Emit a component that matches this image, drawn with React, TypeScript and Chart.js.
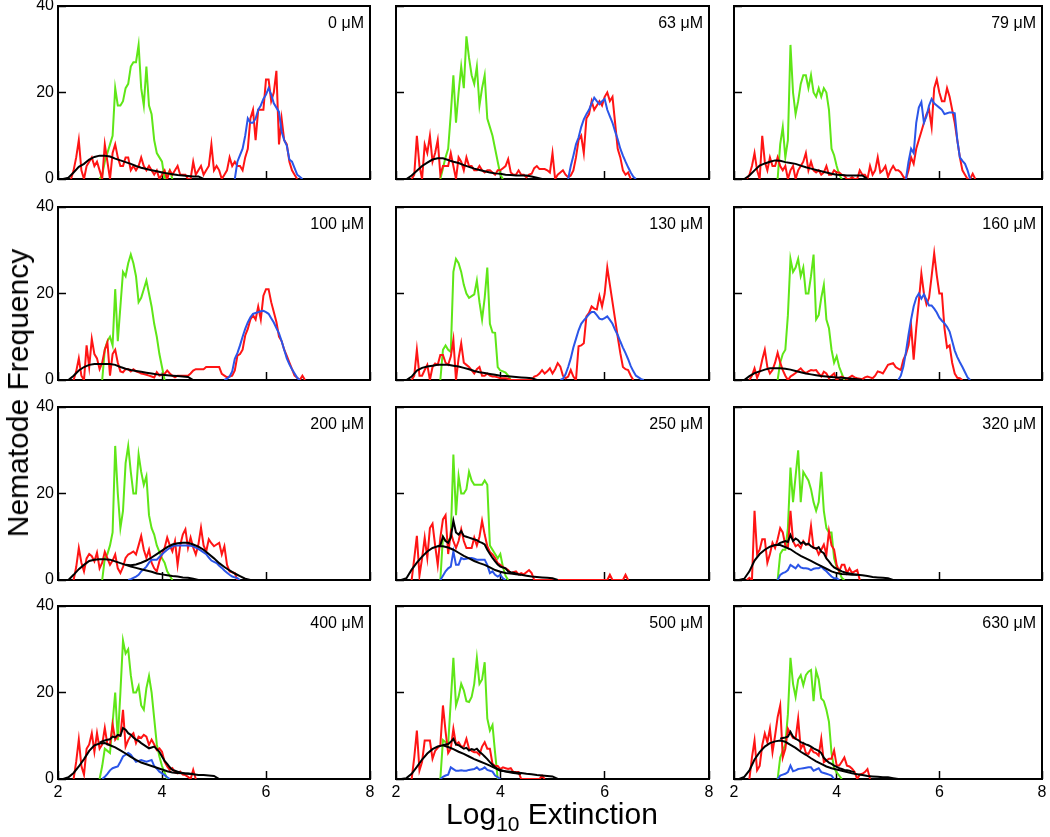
import React, { useEffect, useRef } from 'react';
import { Chart, registerables } from 'chart.js';

Chart.register(...registerables);

// ---------------- data ----------------
const CONCENTRATIONS = ['0', '63', '79', '100', '130', '160', '200', '250', '320', '400', '500', '630'];
const X_MIN = 2;
const X_MAX = 8;
const X_STEP_TICK = 2;
const Y_MIN = 0;
const Y_MAX = 40;
const Y_STEP_TICK = 20;

const FINE = 0.05; // bin width of green, red, blue and second black series
const COARSE = 0.1; // bin width of the smooth black series
const BLACK_START = 2.0;

const GREEN_START = [2.8, 2.85, 2.85, 2.85, 2.85, 2.85, 2.85, 2.85, 2.85, 2.8, 2.85, 2.85];
const RED_START = [2.25, 2.3, 2.25, 2.3, 2.3, 2.3, 2.3, 2.3, 2.25, 2.3, 2.3, 2.3];
const BLUE_START = [5.4, 5.3, 5.35, 5.2, 5.15, 5.2, 3.35, 2.85, 2.85, 2.85, 2.85, 2.85];
const BLACK2_START = [0, 0, 0, 0, 0, 0, 3.3, 2.8, 2.85, 2.8, 2.9, 2.9];
const BLACK2_STEP = [0, 0, 0, 0, 0, 0, 0.1, 0.05, 0.05, 0.05, 0.05, 0.05];

// 0 uM
const GREEN_0 = [0,1,4,6,8,10,21,17,17,18,21,22,26,27,27,31,21,17,26,17,15,9,6,5,4,0,1,2,0];
const RED_0 = [0,2,5,9,2,0,3,4,5,3,4,2,0,8,4,0,6,8,5,3,3,5,5,2,3,2,3,5,3,2,3,2,1,2,0,1,2,0,2,1,2,3,1,1,1,0,0,4,1,2,3,1,2,3,8,2,3,2,0,1,2,5,3,4,3,3,2,5,7,14,16,9,16,16,16,23,23,18,20,25,8,14,9,8,4,2,1,0];
const BLUE_0 = [0,4,5.5,7,10,14,13,13,14,16,17,18.5,19.5,21,19.5,17.5,16.5,15.5,11,9,7.7,4.5,4,2.5,1,0.5,0];
const BLACK_0 = [0,0,0.3,1.5,2.8,3.5,4.5,5.1,5.4,5.4,5.2,4.7,4.3,3.9,3.5,3.0,2.6,2.3,2.0,1.8,1.5,1.3,1.1,0.9,0.8,0.7,0.6,0.6,0];

// 63 uM
const GREEN_1 = [0,2.5,5,7,15,24,13,20,26,21,33,28,24,22,26,17,21,24,14,12,10,7,4,1,0];
const RED_1 = [0,1,10,3,0,8,6,10,4,6,9,1,3,3,3,6,3,0,5,4,2,5,3,3,2,2,3,2,1.5,2,2,1.5,1,2,2,2.5,3,4.6,1.5,1,1,2,1,1,0.4,1,1.2,2.5,3,2.3,2.3,2.3,2,1.5,6,0,1,1.5,2,1,0.4,0.8,2,5,9,10,6,14,15,18,16,17,18,17,19,20,18,19,13,7,5,2,1,1.5,0];
const BLUE_1 = [0,3,5.4,8,9.6,12,13.8,15,16,17.5,18.8,18,17.3,18,18.5,16,14.5,13,11,9.2,7,5.4,4,2.7,1.5,0.5,0];
const BLACK_1 = [0,0,0,0.8,1.9,3,3.8,4.5,4.8,4.8,4.4,4.0,3.7,3.2,2.8,2.4,2.1,1.8,1.5,1.3,1.2,1.0,0.9,0.8,0.8,0.8,0.6,0.3,0];

// 79 uM
const GREEN_2 = [0,8,12,5,9,31,20,15,18,22,24,24,21,24,20,19,21,19,21,20,16,7,5.5,3,1,0];
const RED_2 = [0,1,3,6,2,0,10,4,2,5,3,3,5,3,2,3,0,2,3,0,2,3,4,6,2,4,2,1.5,2,1,1.5,3,1,1,2,1.5,1.5,1,0.8,0,0,0.4,0,0,2,1,1,0,3,1,2,5,1.5,2,3,0.5,2,3,2,2,1.5,0.5,0,2,5,3.5,7,9,11,13,15,16,12,21,23,20,18,18,21,19,16,13,9,5,2,1,0,0,1.2,0];
const BLUE_2 = [0,4,7,6,13,16.5,17.8,13,14.5,17,18.5,17.5,17,16.5,16,15,15.2,15.4,15.4,15.2,9,5,4.2,3.5,2,0];
const BLACK_2 = [0,0,0,0.8,2,3.1,3.6,4,4.3,4.2,3.9,3.7,3.5,3.1,2.7,2.4,2.1,1.8,1.5,1.2,1.0,0.9,0.8,0.8,0.8,0.8,0];

// 100 uM
const GREEN_3 = [0,7,9,10,8,21,9,17,25,24,27,29,27,24,18,19,21,23,20,17,13,10,6,3,0];
const RED_3 = [0,2,5,1,0,8,3,9.5,6,5,2.5,4,7,8.7,1,6,7,4,2,1.8,2.5,2.5,2,2.5,2,1.8,1.5,1.4,1.2,1,0.8,0.6,1.8,1,1.2,1.4,2.2,1.5,1,0.6,1,1,1,1,1,1.5,2.2,2.5,2.5,2.5,2.5,3,3,3,3,3,3,1.4,1,0.6,0.8,1,2.2,5.6,6,7,10.3,11.8,14,15,14,17,14,19.5,21,21,18,15.7,13.4,10,9,7,5.6,4,2.5,1,0.5,0,1,0];
const BLUE_3 = [0,0.3,0.8,2,4.9,6.2,8,10,11.8,13.3,14.5,15.3,15.5,15.7,15.9,16,15.7,15.3,14.3,13.3,12,10.8,9,7,5,3.6,2.5,1.5,0.5,0];
const BLACK_3 = [0,0,0,1,2.2,3,3.5,3.7,3.7,3.7,3.7,3.5,3.0,2.6,2.3,2.1,1.9,1.7,1.5,1.3,1.2,1.1,1.0,0.9,0.8,0.7,0];

// 130 uM
const GREEN_4 = [0,7,8,7,6.5,25,28,27,25,22,20,19,19.4,19.8,23,18,14,19,26,13,11,10.9,3,2.2,2,1.7,1,0];
const RED_4 = [0,1,7,1,1,2.3,3.5,0,3,3.8,3.5,5.8,5.8,4,3.5,5.4,9.3,0,5,8.5,4,3.5,3,2.3,1.5,2.5,3,1,1,1.5,1,0.8,0.8,0.6,0.4,0.4,0.4,0.3,0,0,0,0,0,0,0,0,0,0.8,1,1.5,2.3,1.5,2,2.7,1.5,2.5,3.9,3.1,1,0.4,0.8,2.3,0.8,0,7.8,8,8.5,14.7,15.5,17,16.5,16.3,19.4,17,20,26,22,18,14,10,6.2,3,2.5,2.3,1,0];
const BLUE_4 = [0,0.3,1.3,3,5,7.5,9.5,11.5,13,13.8,14.5,15.2,15.7,15.7,15,14.2,14,14.3,14.7,13.9,13,11.6,10.4,8.9,7.5,6.2,4.8,3.2,2,1,0.6,0.2,0];
const BLACK_4 = [0,0,0,0.8,2.2,2.8,3.1,3.3,3.5,3.5,3.5,3.3,3.1,2.8,2.5,2.1,1.8,1.6,1.4,1.2,1.0,0.9,0.8,0.7,0.6,0.5,0.4,0];

// 160 uM
const GREEN_5 = [0,4,6,7,15,28,25,26,28,24,26,20,20,24,29,14,15,19,22,14,12,7,4,5.5,3,1.5,0];
const RED_5 = [0,1,2.7,0.5,2,4.7,7,3,1.5,2.3,4,6.3,4,2.3,1,0,0.8,1.2,1.6,2.2,2.7,2,1.6,2,2.3,2.2,2.3,1.5,0.8,1.9,1.5,0.4,1,1.5,0,0.5,0.8,0.5,0.2,0.6,1,0.6,0.4,0.3,0.2,0.6,0.8,0.6,0.4,1,2,1.8,1.5,2.5,3.5,3.7,3.9,3,2.6,2.3,4.7,6,8,12.5,4.7,12,18,24.6,20,17.5,19,24,29.3,24.2,20,20,12,7.5,8,4,1.5,0.5,0.4,0];
const BLUE_5 = [0,1,3.1,6.5,10.5,14,17,19,20,18.8,19.8,18.5,17.2,17.2,16.5,15.6,14.4,13.7,13.1,12.3,11.2,9,6.8,5.3,4.1,3,1.8,0.6,0];
const BLACK_5 = [0,0,0,0.9,1.6,2,2.4,2.7,2.7,2.7,2.6,2.4,2.1,1.8,1.5,1.3,1.1,0.9,0.8,0.7,0.6,0.5,0.4,0.3,0.2,0];

// 200 uM
const GREEN_6 = [0,5,6,8,11,31,20,12,16,27,31,25,20,20,29,25,22,24,15,12,10.5,8,6.5,5,4,2,1,0];
const RED_6 = [0,3,7.4,4,2,5,6,5.5,4.3,6.3,2.7,4,6.5,5,3.5,4.5,5.9,2.7,1.6,3,5.1,5.9,6.2,6.6,5.9,8,10.2,7,5.1,7,4,2.7,2,4.3,6,7.4,9.8,8,6.6,9,3.5,8,10.5,11.7,7.4,9.8,7.5,5.9,8.2,12.1,8,6.6,9.4,8.5,7.8,8.2,8.6,5.9,7.8,3.5,2,1.8,1.6,0];
const BLUE_6 = [0,0.2,0.5,0.8,1.2,2,2.5,3.1,4,4.7,4.7,4.7,5.3,5.9,6.5,7,7.4,7.8,8,8,8,8,8,8,7.9,7.8,7.5,7.2,6.8,6.4,6,5.2,4.5,4.2,3.9,3.3,2.8,2.2,1.7,1.2,0.8,0.6,0.4,0];
const BLACK_6 = [0,0,0,1.2,2.5,3.5,4.4,4.7,4.8,4.8,4.7,4.3,3.9,3.5,3.1,2.8,2.5,2.2,1.9,1.5,1.3,1.1,0.9,0.8,0.6,0.5,0.3,0];
const BLACK2_6 = [3.5,3.4,3.6,4.0,4.5,5.2,6.0,6.8,7.6,8.2,8.5,8.6,8.6,8.2,7.7,7.0,6.0,5.0,3.9,3.0,2.2,1.5,0.9,0.3,0];

// 250 uM
const GREEN_7 = [0,10,9,9,10,29,15,24,20,20,21,25,23,22,22,22,22,23,22,8,7,6,5,6,3,1,0];
const RED_7 = [0,5,10.2,1,5,9.8,5.1,12,13,8,3.5,9.8,14,15,6,11,9,7.4,9,11.7,9,7.4,7.4,7.4,9.8,8,10,13.7,10.5,7.8,6.5,5.9,5.1,3.9,3.5,3,2.7,2.3,1.6,1.8,2,1.3,1.6,1.3,1.8,2.3,1.6,0,0,0,0,0,0,0,0,0,0,0,0,0,0,0,0,0,0,0,0,0,0,0,0,0,0,0,0,0,1.2,0,0,0,0,0,1.2,0];
const BLUE_7 = [0,1,2,2.7,3.1,6.6,3.5,3.5,5.1,4.8,4.9,5.1,5.1,4.9,4.7,4.7,4.7,4.7,3.5,1.6,2,1.2,0.8,1.2,0.4,0];
const BLACK_7 = [0,0,0.4,2.4,4,5.4,6.6,7.4,7.8,7.8,7.5,7,6.3,5.6,5,4.4,3.9,3.5,2.9,2.3,1.9,1.6,1.5,1.3,1.2,1.0,0.8,0.7,0.6,0.5,0.4,0];
const BLACK2_7 = [7.8,8,10,9,8.6,9.8,13.7,11,10.5,11.3,10.2,10,9.8,9.6,9.4,9.2,8.8,8.6,8.2,7,6,5.1,4.3,3.6,3.1,2.9,2.7,2,1.8,1.7,1.5,1.3,1.2];

// 320 uM
const GREEN_8 = [0,6,7,7,12,26,18,24,30,18,25,24,23,21,18,16,18,25,16,12,11,11,5,3,2,0.5,0];
const RED_8 = [0,0.5,0,16,6,7,9.4,9.4,4,6,8.6,7.4,9.4,12,11,8,7.4,16,9,7.8,8.2,7.4,9,8.2,8.2,12.5,7.4,7.4,5.9,7,8.2,5.9,11.3,8,7,3.5,2,3.5,3.5,1.6,2.7,1.6,2,2.3,0];
const BLUE_8 = [0,1.2,1.6,1.8,2.3,3.5,3.1,2.7,3.5,2.9,2.7,2.7,2.6,2.3,2.6,2.7,2.7,3.1,2.5,2,1.4,0.8,0.4,0.4,0];
const BLACK_8 = [0,0,0.3,2,4.5,6,7,7.7,8.1,8.1,7.6,7.1,6.3,5.6,5,4.4,3.8,3.2,2.6,2,1.6,1.4,1.3,1.2,1.2,1.1,0.9,0.7,0.6,0.5,0.4,0];
const BLACK2_8 = [8.2,8.6,8.8,9,8.8,10.4,9,9.6,9.2,8.4,8.8,8.2,8.4,7.8,7.5,7.2,7.6,6.6,6.2,5,4.3,3.5,2.9,2.6,2.3,2,1.8,1.6,1.5,1.4,1.3,1.2];

// 400 uM
const GREEN_9 = [0,3,7,6.5,6,13,20,9,20,32,29,30,24,20,20,21.5,17,16,21,23.8,20,14,8,5.2,3,1.5,0];
const RED_9 = [0,4,9.1,3,1,7,8,10.6,6.3,10.6,7,8,11.8,8,8,12.6,9.1,10,10,16,7.5,9,10,10.6,8.3,9.8,9.5,10.2,9.8,7.9,9.1,8,6.7,7.1,6.3,4,2.9,2.1,2.5,1.5,1.3,1.7,1,0.9,0.5,0,2.1,0];
const BLUE_9 = [0,0.5,1.2,2,2.5,2.7,2.9,4,5.2,5.6,6,5.6,4.8,4,4.2,4.4,4.2,4,4.2,4.4,3,2.4,1.7,1.3,0.9,0.4,0];
const BLACK_9 = [0,0,0.4,1.4,2.9,4.6,6.5,7.8,8.2,8.3,7.8,7.3,6.6,5.9,5.1,4.4,3.8,3.4,3,2.6,2.2,1.8,1.5,1.4,1.3,1.2,1.1,0.9,0.9,0.8,0.7,0];
const BLACK2_9 = [8.4,8.7,8.9,9.1,9.2,9.8,9.6,10.2,10,11.8,11.4,10.6,10.2,9.6,9.1,8.8,8.3,7.9,7.5,7.1,7.3,7.5,6.9,6.3,5.2,4.2,3.5,2.7,2.1,1.9,1.7,1.5,1.4,1.3,1.3,1.2,1.2];

// 500 uM
const GREEN_10 = [0,9,8.5,8,18,28,17,19,22,20.5,18,17.8,19,22,28,22,23,27,14,11.2,12.5,6,0];
const RED_10 = [0,5,11.2,2,4,8.9,8.9,8.9,4.7,6.5,7.2,7.8,17,11,6,7,11.6,8,8.5,7.5,7.5,9.3,7,6.5,6.2,6.2,5.6,7.5,8.5,7,7,3.5,3,3,2.3,2.7,2.5,2.3,2.5,1.6,1.6,1.6,0,0,0,0,0,0,0,0,0.8,0];
const BLUE_10 = [0,0.5,0.8,1,2.7,2.3,1.9,1.9,2,1.9,1.9,2.1,2.2,2.3,2.7,2.1,2.3,2.7,2.1,1.9,1.7,0.8,0.4,0];
const BLACK_10 = [0,0,0.2,1.2,2.8,4.5,5.9,6.9,7.5,7.8,7.4,6.9,6.3,5.8,5.2,4.6,4.1,3.6,3.1,2.5,1.9,1.8,1.7,1.5,1.4,1.2,1.1,0.9,0.8,0.7,0.6,0];
const BLACK2_10 = [7.8,8,8.1,8.6,9.3,8,7.8,7.4,7,7.2,6.6,6.9,6.7,7,6.3,5.8,5.2,4.6,3.9,3.3,2.7,2.3,2.1,1.9,1.7,1.6,1.5,1.4,1.3,1.2,1.2];

// 630 uM
const GREEN_11 = [0,5,6.5,8,15,28,22,19,23,24,21.7,24,24.8,25.2,18,25,23,18.6,18,16,13.2,6,2.5,1.5,0.8,0];
const RED_11 = [0,5,8.9,2,3,7.8,10.5,8.5,11.6,6.2,10,14.3,17,5,7,11.6,10.5,9.5,9.3,14,7,8.1,6,5.8,7,6.2,6,5.4,9.3,3.9,4.3,4.7,4.7,6.6,3.1,3.1,4,5,3.1,2.9,2.4,1.6,0,1,1.2,1.6,2.3,0];
const BLUE_11 = [0,0.8,1,1.2,1.6,3.1,1.8,2,2.3,2.4,2.5,2.6,2.7,2.7,1.9,2.2,2.5,1.6,1.4,1.2,1,0.8,0];
const BLACK_11 = [0,0,0.5,2,4.5,6.2,7.5,8.3,8.7,8.9,8.6,7.9,7.2,6.3,5.6,4.8,4.1,3.5,2.9,2.5,2.2,1.9,1.6,1.3,1.1,0.9,0.7,0.6,0.5,0.4,0.4,0.2,0];
const BLACK2_11 = [9.3,9.5,9.6,9.8,10.9,9.8,9.3,9,8.5,8.3,8,7.8,7.5,7.1,6.8,6.5,6,4.9,4.3,3.8,3.5,3.1,2.8,2.5,2.3,2.1,2,1.9,1.7,1.6];

const GREENS = [GREEN_0, GREEN_1, GREEN_2, GREEN_3, GREEN_4, GREEN_5, GREEN_6, GREEN_7, GREEN_8, GREEN_9, GREEN_10, GREEN_11];
const REDS = [RED_0, RED_1, RED_2, RED_3, RED_4, RED_5, RED_6, RED_7, RED_8, RED_9, RED_10, RED_11];
const BLUES = [BLUE_0, BLUE_1, BLUE_2, BLUE_3, BLUE_4, BLUE_5, BLUE_6, BLUE_7, BLUE_8, BLUE_9, BLUE_10, BLUE_11];
const BLACKS = [BLACK_0, BLACK_1, BLACK_2, BLACK_3, BLACK_4, BLACK_5, BLACK_6, BLACK_7, BLACK_8, BLACK_9, BLACK_10, BLACK_11];
const BLACKS2: (number[] | null)[] = [null, null, null, null, null, null, BLACK2_6, BLACK2_7, BLACK2_8, BLACK2_9, BLACK2_10, BLACK2_11];

// ---------------- layout / style ----------------
const COL_LEFT = [58, 396, 734];
const COL_WIDTH = [312, 313, 308];
const ROW_TOP = [6, 207, 407, 606];
const ROW_HEIGHT = 173;
const M = 26;
const FONT = '"Liberation Sans", Arial, Helvetica, sans-serif';
const C_GREEN = '#5fe617';
const C_RED = '#ff1414';
const C_BLUE = '#2b55e8';
const C_BLACK = '#000000';

function toPoints(start: number, step: number, values: number[]) {
  return values.map((v, i) => ({ x: Math.round((start + i * step) * 1000) / 1000, y: v }));
}

const boxPlugin = {
  id: 'panelBox',
  beforeDatasetsDraw(chart: any) {
    const { ctx, chartArea } = chart;
    ctx.save();
    ctx.strokeStyle = '#000';
    ctx.lineWidth = 2;
    ctx.strokeRect(chartArea.left, chartArea.top, chartArea.right - chartArea.left, chartArea.bottom - chartArea.top);
    ctx.restore();
  },
};

const labelPlugin = {
  id: 'panelLabel',
  afterDraw(chart: any, _args: any, opts: any) {
    const { ctx, chartArea } = chart;
    ctx.save();
    ctx.font = `16px ${FONT}`;
    ctx.fillStyle = '#000';
    ctx.textAlign = 'right';
    ctx.textBaseline = 'alphabetic';
    ctx.fillText(opts.text, chartArea.right - 6, chartArea.top + 22);
    ctx.restore();
  },
};

function Panel({ index }: { index: number }) {
  const ref = useRef<HTMLCanvasElement>(null);
  const col = index % 3;
  const row = Math.floor(index / 3);
  const yW = col === 0 ? 50 : 0;
  const xH = row === 3 ? 30 : 0;
  const padL = col === 0 ? 4 : M;
  const left = COL_LEFT[col] - yW - padL;
  const top = ROW_TOP[row] - M;
  const width = padL + yW + COL_WIDTH[col] + M;
  const height = M + ROW_HEIGHT + xH + M;

  useEffect(() => {
    const line = (data: any[], color: string, order: number) => ({
      data,
      borderColor: color,
      backgroundColor: color,
      borderWidth: 2,
      pointRadius: 0,
      tension: 0,
      fill: false,
      order,
    });
    const datasets: any[] = [
      line(toPoints(GREEN_START[index], FINE, GREENS[index]), C_GREEN, 4),
      line(toPoints(RED_START[index], FINE, REDS[index]), C_RED, 3),
      line(toPoints(BLUE_START[index], FINE, BLUES[index]), C_BLUE, 2),
      line(toPoints(BLACK_START, COARSE, BLACKS[index]), C_BLACK, 1),
    ];
    const b2 = BLACKS2[index];
    if (b2) datasets.push(line(toPoints(BLACK2_START[index], BLACK2_STEP[index], b2), C_BLACK, 0));

    const chart = new Chart(ref.current as HTMLCanvasElement, {
      type: 'line',
      data: { datasets },
      options: {
        animation: false,
        responsive: false,
        devicePixelRatio: 1,
        events: [],
        layout: { padding: { left: padL, top: M, right: M, bottom: M } },
        plugins: {
          legend: { display: false },
          tooltip: { enabled: false },
          panelLabel: { text: `${CONCENTRATIONS[index]} \u03bcM` },
        } as any,
        scales: {
          x: {
            type: 'linear',
            min: X_MIN,
            max: X_MAX,
            afterFit: (s: any) => { s.height = xH; },
            border: { display: false },
            grid: { display: true, drawOnChartArea: false, drawTicks: true, tickLength: -8, tickWidth: 1.5, tickColor: '#000' },
            ticks: {
              display: row === 3,
              stepSize: X_STEP_TICK,
              padding: 12,
              color: '#000',
              maxRotation: 0,
              autoSkip: false,
              font: { family: FONT, size: 16 },
            },
          },
          y: {
            type: 'linear',
            min: Y_MIN,
            max: Y_MAX,
            afterFit: (s: any) => { s.width = yW; },
            border: { display: false },
            grid: { display: true, drawOnChartArea: false, drawTicks: true, tickLength: -8, tickWidth: 1.5, tickColor: '#000' },
            ticks: {
              display: col === 0,
              stepSize: Y_STEP_TICK,
              padding: 12,
              color: '#000',
              font: { family: FONT, size: 16 },
            },
          },
        } as any,
      },
      plugins: [boxPlugin, labelPlugin],
    } as any);
    return () => chart.destroy();
  }, [index]);

  return (
    <canvas
      ref={ref}
      width={width}
      height={height}
      style={{ position: 'absolute', left, top, width, height }}
    />
  );
}

export default function App() {
  return (
    <div
      style={{
        position: 'fixed',
        left: 0,
        top: 0,
        width: 1050,
        height: 837,
        background: '#fff',
        fontFamily: FONT,
        color: '#000',
        overflow: 'hidden',
      }}
    >
      {CONCENTRATIONS.map((_, i) => (
        <Panel key={i} index={i} />
      ))}
      <div
        style={{
          position: 'absolute',
          left: 18,
          top: 393,
          transform: 'translate(-50%, -50%) rotate(-90deg)',
          fontSize: 30,
          lineHeight: 1,
          whiteSpace: 'nowrap',
        }}
      >
        Nematode Frequency
      </div>
      <div
        style={{
          position: 'absolute',
          left: 552,
          top: 814,
          transform: 'translate(-50%, -50%)',
          fontSize: 30,
          lineHeight: 1,
          whiteSpace: 'nowrap',
        }}
      >
        Log<span style={{ fontSize: 21, position: 'relative', top: 7 }}>10</span> Extinction
      </div>
    </div>
  );
}
